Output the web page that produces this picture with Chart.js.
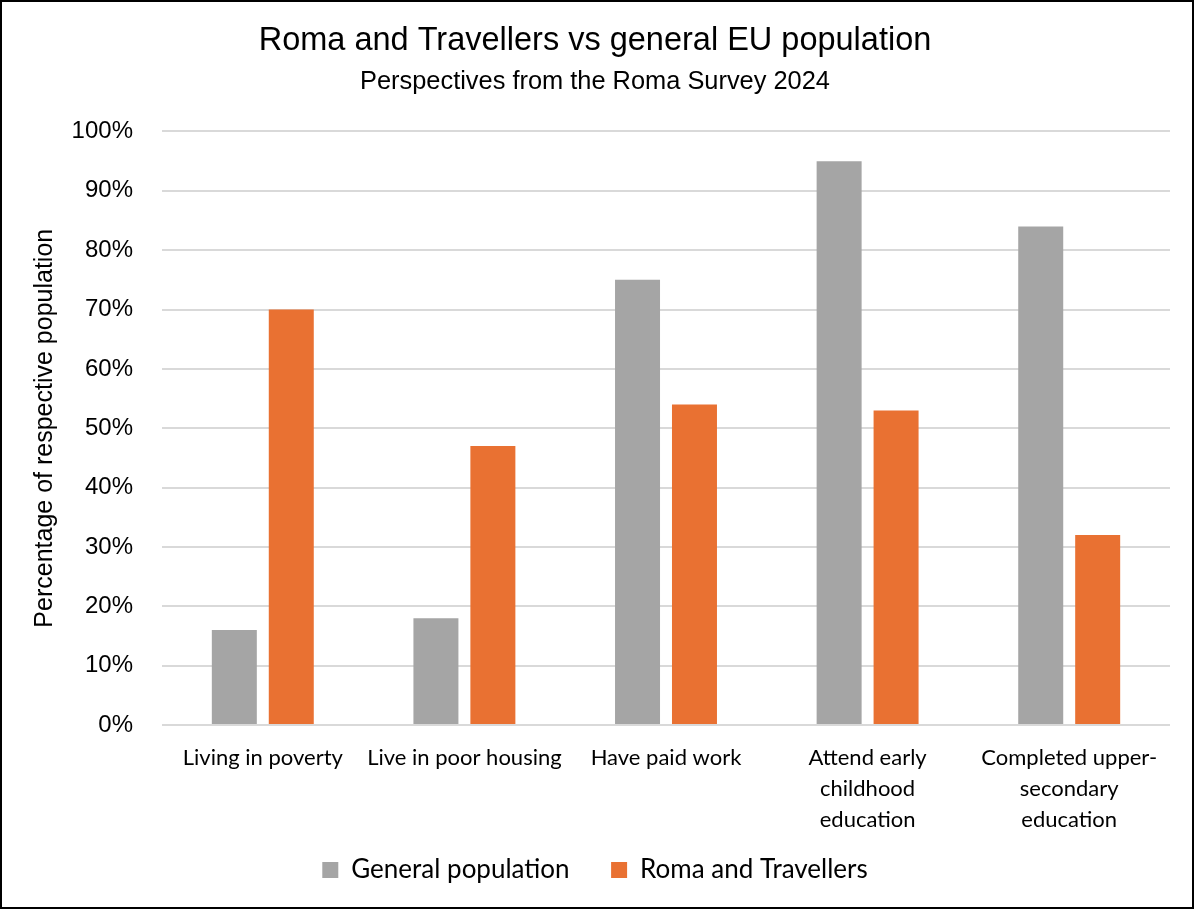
<!DOCTYPE html>
<html>
<head>
<meta charset="utf-8">
<script src="https://cdn.jsdelivr.net/npm/chart.js@4"></script>
<style>
  html, body { margin: 0; padding: 0; background: #fff; }
  #wrap { width: 1194px; height: 909px; position: relative; }
</style>
</head>
<body>
<div id="wrap"><canvas id="chartOutput" width="1194" height="909"></canvas></div>
<script>
// chart values
var categories = [
    'Living in poverty',
    'Live in poor housing',
    'Have paid work',
    ['Attend early', 'childhood', 'education'],
    ['Completed upper-', 'secondary', 'education']
];
var generalPopulation = [16, 18, 75, 95, 84];
var romaTravellers = [70, 47, 54, 53, 32];
var yTicks = [0, 10, 20, 30, 40, 50, 60, 70, 80, 90, 100];

// outer frame round the whole picture
var framePlugin = {
    id: 'frame',
    afterDraw: function (chart) {
        var ctx = chart.ctx;
        ctx.save();
        ctx.strokeStyle = '#000';
        ctx.lineWidth = 2;
        ctx.strokeRect(1, 1, chart.width - 2, chart.height - 2);
        ctx.restore();
    }
};

function drawChart() {
    var ctx = document.getElementById('chartOutput').getContext('2d');

    new Chart(ctx, {
        type: 'bar',
        data: {
            labels: categories,
            datasets: [
                {
                    label: 'General population',
                    data: generalPopulation,
                    backgroundColor: '#A5A5A5'
                },
                {
                    label: 'Roma and Travellers',
                    data: romaTravellers,
                    backgroundColor: '#E97132'
                }
            ]
        },
        options: {
            responsive: false,
            animation: false,
            devicePixelRatio: 1,
            categoryPercentage: 0.565,
            barPercentage: 0.79,
            layout: { padding: { top: 10, left: 20, right: 24, bottom: 16 } },
            plugins: {
                title: {
                    display: true,
                    text: 'Roma and Travellers vs general EU population',
                    color: '#000',
                    font: { family: "'Liberation Sans', sans-serif", size: 32.5, weight: 'normal' },
                    padding: { top: 12, bottom: 0 }
                },
                subtitle: {
                    display: true,
                    text: 'Perspectives from the Roma Survey 2024',
                    color: '#000',
                    font: { family: "'Liberation Sans', sans-serif", size: 25.4, weight: 'normal' },
                    padding: { top: 6, bottom: 34 }
                },
                legend: {
                    position: 'bottom',
                    labels: {
                        color: '#000',
                        boxWidth: 16,
                        boxHeight: 16,
                        padding: 22,
                        font: { family: 'Lato, sans-serif', size: 26 },
                        // an em space after the first item widens the gap between the two
                        generateLabels: function (chart) {
                            var items = Chart.defaults.plugins.legend.labels.generateLabels(chart);
                            items[0].text += '\u2003';
                            return items;
                        }
                    }
                },
                tooltip: { enabled: false }
            },
            scales: {
                x: {
                    grid: { display: false },
                    border: { display: false },
                    ticks: {
                        color: '#000',
                        autoSkip: false,
                        maxRotation: 0,
                        padding: 9,
                        font: { family: 'Lato, sans-serif', size: 22, lineHeight: 1.41 }
                    },
                    afterFit: function (scale) { scale.height = 110; }
                },
                y: {
                    min: 0,
                    max: 100,
                    afterBuildTicks: function (scale) {
                        scale.ticks = yTicks.map(function (v) { return { value: v }; });
                    },
                    grid: { color: '#D9D9D9', lineWidth: 2, drawTicks: false },
                    border: { display: false },
                    ticks: {
                        color: '#000',
                        padding: 29,
                        font: { family: "'Liberation Sans', sans-serif", size: 24 },
                        callback: function (v) { return v + '%'; }
                    },
                    title: {
                        display: true,
                        text: 'Percentage of respective population',
                        color: '#000',
                        font: { family: "'Liberation Sans', sans-serif", size: 25 },
                        padding: { top: 10, bottom: 0 }
                    },
                    afterFit: function (scale) { scale.width = 142; }
                }
            }
        },
        plugins: [framePlugin]
    });
}

drawChart();
</script>
</body>
</html>
